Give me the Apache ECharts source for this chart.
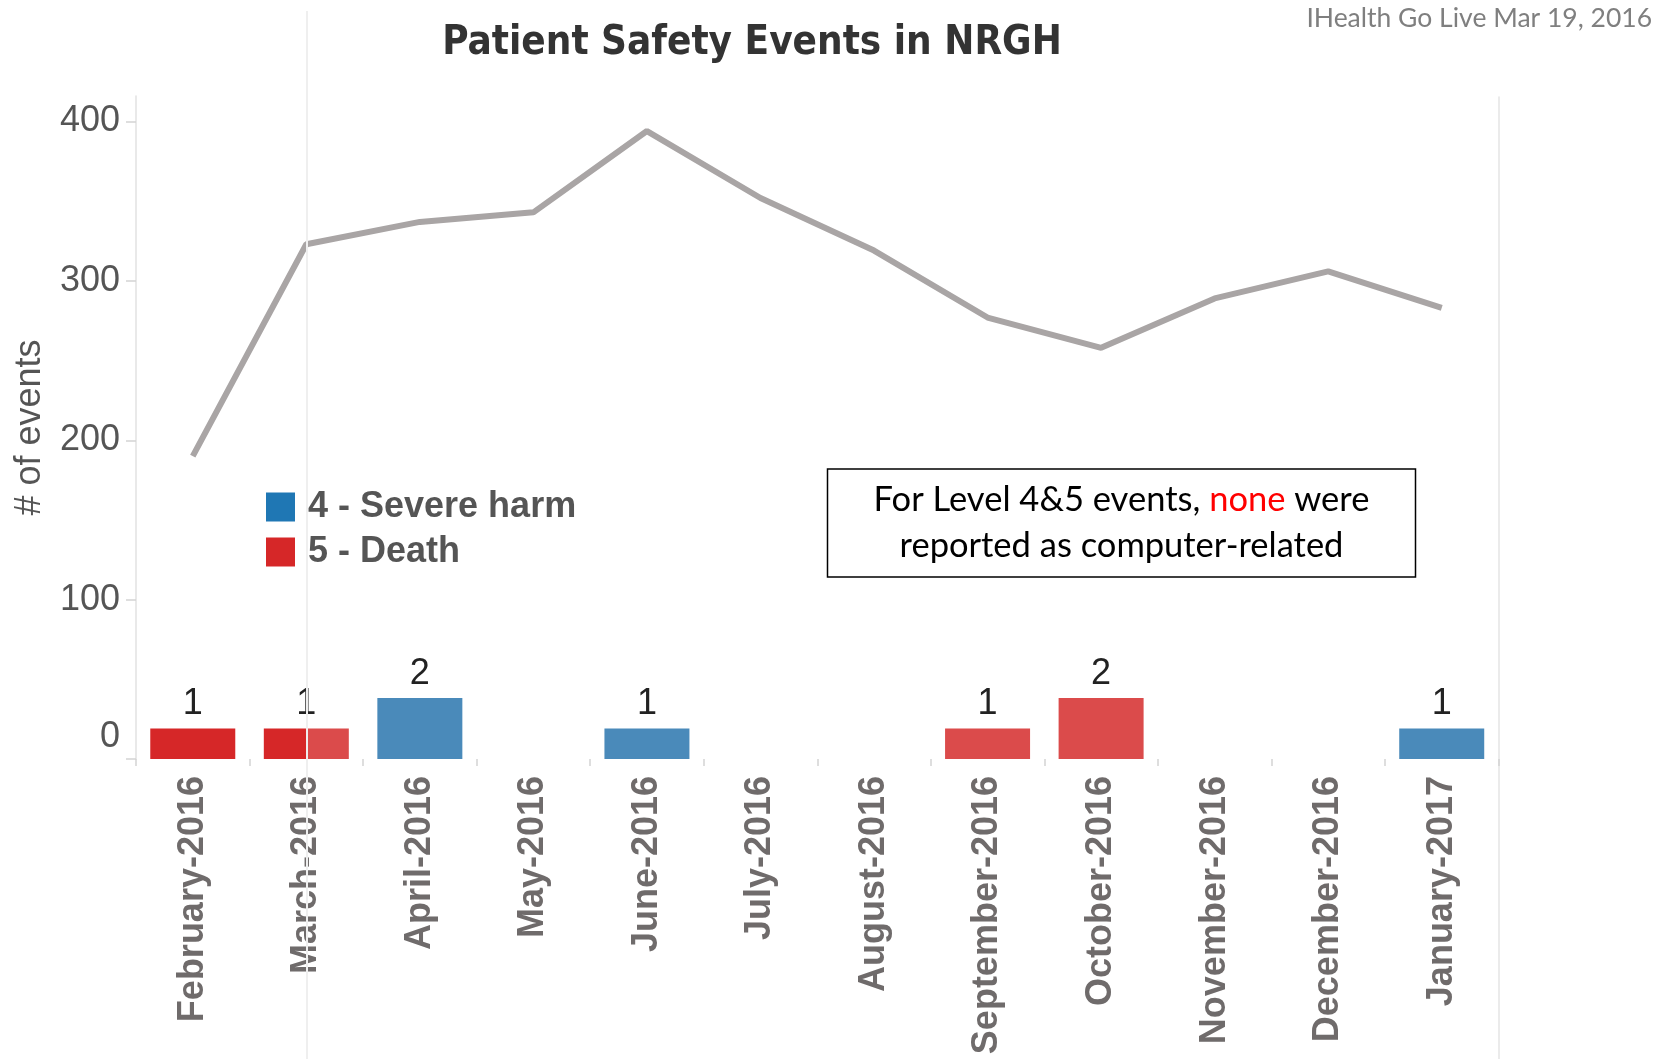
<!DOCTYPE html>
<html>
<head>
<meta charset="utf-8">
<title>Patient Safety Events in NRGH</title>
<script src="https://cdn.jsdelivr.net/npm/echarts@6/dist/echarts.min.js"></script>
<style>
  html, body { margin: 0; padding: 0; background: #fff; }
  #chart { width: 1671px; height: 1059px; }
</style>
</head>
<body>
<div id="chart"></div>
<script>
// months on the x axis
var months = ['February-2016', 'March-2016', 'April-2016', 'May-2016', 'June-2016', 'July-2016',
  'August-2016', 'September-2016', 'October-2016', 'November-2016', 'December-2016', 'January-2017'];
// all patient safety events (grey line)
var allEvents = [190, 323, 337, 343, 394, 352, 319, 277, 258, 289, 306, 283];
// level 4 / level 5 events (bars)
var severeHarm = [0, 0, 2, 0, 1, 0, 0, 0, 0, 0, 0, 1];
var death = [1, 1, 0, 0, 0, 0, 0, 1, 2, 0, 0, 0];
var yTicks = [0, 100, 200, 300, 400];
var goLive = 'March-2016';

var goLiveIdx = months.indexOf(goLive);
var GRID_L = 136, GRID_R = 172.5;

// bars before go live are full colour, after are faded, go-live month is split
function barItems(values, strong, faded) {
  return values.map(function (v, i) {
    var c = strong;
    if (i > goLiveIdx) c = faded;
    if (i === goLiveIdx) {
      c = new echarts.graphic.LinearGradient(0, 0, 1, 0, [
        { offset: 0, color: strong }, { offset: 0.5, color: strong },
        { offset: 0.5, color: faded }, { offset: 1, color: faded }
      ]);
    }
    return { value: v, itemStyle: { color: c } };
  });
}

var barLabel = {
  show: true,
  position: 'top',
  distance: 6,
  fontFamily: 'Liberation Sans',
  fontSize: 36,
  color: '#222',
  formatter: function (p) { return p.value ? p.value : ''; }
};

var chart = echarts.init(document.getElementById('chart'));
chart.setOption({
  animation: false,
  title: [{
    text: 'Patient Safety Events in NRGH',
    left: 752, top: 24, padding: 0, textAlign: 'center',
    textStyle: { fontFamily: 'DejaVu Sans Condensed', fontWeight: 'bold', fontSize: 40, color: '#333' }
  }, {
    text: 'IHealth Go Live Mar 19, 2016',
    right: 19, top: 5, padding: 0,
    textStyle: { fontFamily: 'Lato', fontWeight: 'normal', fontSize: 26.5, color: '#7f7f7f' }
  }, {
    text: '{a|For Level 4&5 events, }{r|none}{a| were}\n{a|reported as computer-related}',
    left: 1075.5, top: 463, textAlign: 'center',
    padding: [14, 46, 14, 46], borderColor: '#000', borderWidth: 1.5,
    textStyle: {
      fontWeight: 'normal',
      rich: {
        a: { fontFamily: 'Lato', fontWeight: 'normal', fontSize: 34.5, color: '#000', lineHeight: 46, align: 'center' },
        r: { fontFamily: 'Lato', fontWeight: 'normal', fontSize: 34.5, color: '#ff0000', lineHeight: 46, align: 'center' }
      }
    }
  }],
  legend: {
    data: ['4 - Severe harm', '5 - Death'],
    orient: 'vertical',
    left: 261, top: 484,
    itemWidth: 29, itemHeight: 29, itemGap: 9,
    icon: 'rect',
    selectedMode: false,
    textStyle: { fontFamily: 'Liberation Sans', fontWeight: 'bold', fontSize: 36, color: '#555', padding: [0, 0, 0, 8] }
  },
  grid: [
    { left: GRID_L, right: GRID_R, top: 96, bottom: 300, outerBoundsMode: 'none' },
    { left: GRID_L, right: GRID_R, top: 11, bottom: 0, outerBoundsMode: 'none' },
    { left: GRID_L, right: GRID_R, top: 97, bottom: 0, outerBoundsMode: 'none' }
  ],
  xAxis: [{
    type: 'category', gridIndex: 0, data: months, offset: 3,
    axisLine: { show: false },
    axisTick: { show: true, length: 7, lineStyle: { color: '#d4d4d4', width: 1.5 } },
    axisLabel: {
      interval: 0, rotate: 90, margin: 14,
      fontFamily: 'Liberation Sans', fontWeight: 'bold', fontSize: 36, color: '#6f6b6b'
    }
  }, {
    type: 'category', gridIndex: 1, data: months, show: false
  }, {
    type: 'category', gridIndex: 2, data: months, show: false
  }],
  yAxis: [{
    type: 'value', gridIndex: 0, min: 0, max: 416,
    name: '# of events', nameLocation: 'middle', nameGap: 88, nameRotate: 90,
    nameTextStyle: { fontFamily: 'Liberation Sans', fontSize: 36, color: '#555' },
    splitLine: { show: false },
    axisLine: { show: true, lineStyle: { color: '#e2e2e2', width: 1.5 } },
    axisTick: { show: true, length: 10, customValues: yTicks, lineStyle: { color: '#d4d4d4', width: 1.5 } },
    axisLabel: {
      margin: 16, customValues: yTicks,
      fontFamily: 'Liberation Sans', fontSize: 36, color: '#555',
      formatter: function (v) {
        if (v % 100 !== 0) return '';
        return v === 0 ? '{z|0}' : String(v);
      },
      rich: { z: { fontFamily: 'Liberation Sans', fontSize: 36, color: '#555', padding: [0, 0, 44, 0] } }
    }
  }, {
    type: 'value', gridIndex: 0, min: 0, max: 21.7, show: false
  }, {
    type: 'value', gridIndex: 1, min: 0, max: 1, show: false
  }, {
    type: 'value', gridIndex: 2, min: 0, max: 1, position: 'right',
    axisLine: { show: true, lineStyle: { color: '#e4e4e4', width: 1.5 } },
    axisTick: { show: false }, axisLabel: { show: false }, splitLine: { show: false }
  }],
  series: [{
    name: 'All events',
    type: 'line',
    xAxisIndex: 0, yAxisIndex: 0,
    data: allEvents,
    symbol: 'none',
    z: 3,
    lineStyle: { color: '#a9a5a5', width: 6 }
  }, {
    name: '4 - Severe harm',
    type: 'bar', stack: 'lvl',
    xAxisIndex: 0, yAxisIndex: 1,
    barWidth: 85,
    itemStyle: { color: '#1f77b4' },
    data: barItems(severeHarm, '#1f77b4', '#4a8aba'),
    label: barLabel,
    z: 2
  }, {
    name: '5 - Death',
    type: 'bar', stack: 'lvl',
    xAxisIndex: 0, yAxisIndex: 1,
    barWidth: 85,
    itemStyle: { color: '#d62728' },
    data: barItems(death, '#d62728', '#db4b4b'),
    label: barLabel,
    z: 2
  }, {
    name: 'Go live',
    type: 'line',
    xAxisIndex: 1, yAxisIndex: 2,
    data: [],
    z: 10,
    markLine: {
      silent: true, symbol: 'none', animation: false,
      label: { show: false },
      lineStyle: { color: '#efefef', width: 2, type: 'solid' },
      data: [{ xAxis: goLive }]
    }
  }]
});
</script>
</body>
</html>
